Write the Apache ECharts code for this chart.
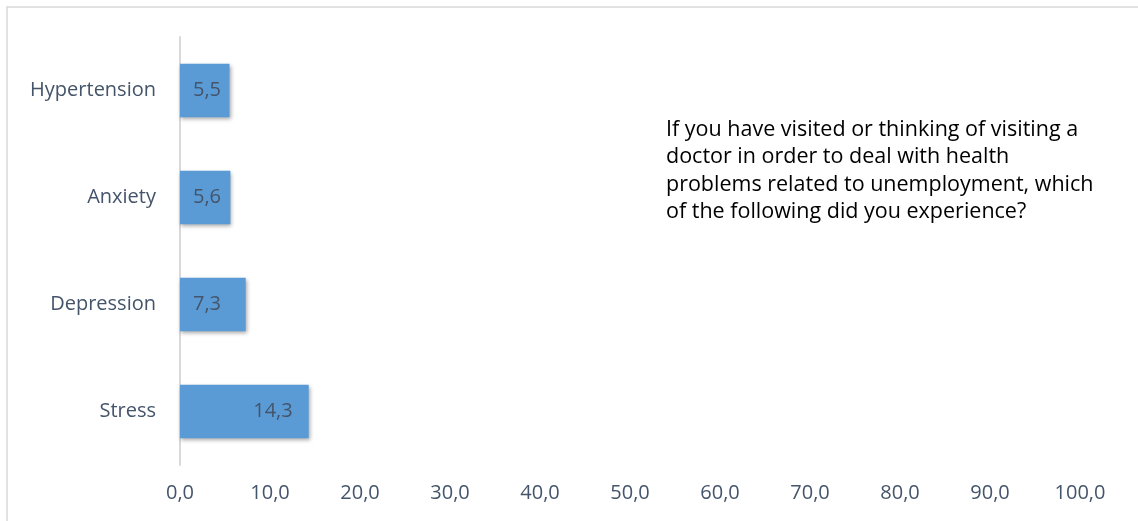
<!DOCTYPE html>
<html>
<head>
<meta charset="utf-8">
<script src="https://cdn.jsdelivr.net/npm/echarts@6/dist/echarts.min.js"></script>
<style>
  html, body { margin: 0; padding: 0; background: #fff; }
  #chart { width: 1138px; height: 521px; }
</style>
</head>
<body>
<div id="chart"></div>
<script>
  // bottom to top, the way a category y axis lays them out
  const categories = ['Stress', 'Depression', 'Anxiety', 'Hypertension']
  const values = [14.3, 7.3, 5.6, 5.5]
  const tickValues = [0, 10, 20, 30, 40, 50, 60, 70, 80, 90, 100]
  const note = [
    'If you have visited or thinking of visiting a',
    'doctor in order to deal with health',
    'problems related to unemployment, which',
    'of the following did you experience?',
  ]

  const fmt = (v) => Number(v).toFixed(1).replace('.', ',')
  const font = '"Open Sans", "Liberation Sans", sans-serif'

  // short bars: the label sits at the start instead of spilling out on the left
  const barData = values.map((v) => ({
    value: v,
    label: v < 10 ? { position: 'insideLeft', distance: 13 } : { position: 'insideRight', distance: 16 },
  }))

  const chart = echarts.init(document.getElementById('chart'))
  chart.setOption({
    animation: false,
    textStyle: { fontFamily: font },
    grid: { left: 180, right: 58, top: 37, bottom: 56 },
    xAxis: {
      type: 'value',
      min: tickValues[0],
      max: tickValues[tickValues.length - 1],
      interval: 10,
      axisLine: { show: false },
      axisTick: { show: false },
      splitLine: { show: false },
      axisLabel: {
        color: '#44546A',
        fontSize: 20,
        margin: 18,
        formatter: fmt,
      },
    },
    yAxis: {
      type: 'category',
      data: categories,
      axisLine: { lineStyle: { color: '#D9D9D9', width: 2 } },
      axisTick: { show: false },
      axisLabel: { color: '#44546A', fontSize: 20, margin: 24 },
    },
    series: [
      {
        type: 'bar',
        data: barData,
        barWidth: '50%',
        itemStyle: {
          color: '#5B9BD5',
          shadowColor: 'rgba(0,0,0,0.35)',
          shadowBlur: 4,
          shadowOffsetX: 1,
          shadowOffsetY: 2,
        },
        label: {
          show: true,
          color: '#44546A',
          fontSize: 20,
          formatter: (p) => fmt(p.value),
        },
      },
    ],
    graphic: [
      {
        // chart frame, only its top and left edges are inside the picture
        type: 'polyline',
        shape: { points: [[7, 900], [7, 7], [1500, 7]] },
        style: { fill: 'none', stroke: '#D9D9D9', lineWidth: 1.5 },
        silent: true,
        z: -1,
      },
      {
        type: 'text',
        x: 666,
        y: 116,
        style: {
          text: note.join('\n'),
          fill: '#000',
          font: '21.5px ' + font,
          lineHeight: 27.5,
        },
      },
    ],
  })
</script>
</body>
</html>
